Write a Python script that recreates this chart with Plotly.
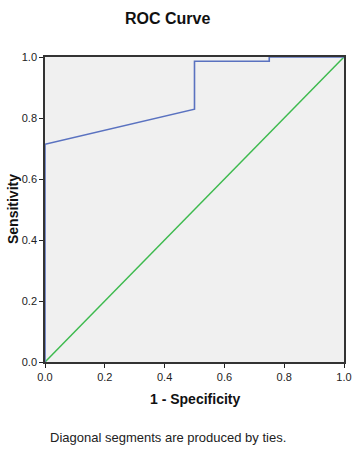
import plotly.graph_objects as go

# ROC curve data (1 - Specificity, Sensitivity)
fpr = [0.0, 0.0, 0.5, 0.5, 0.75, 0.75, 1.0]
tpr = [0.0, 0.714, 0.829, 0.986, 0.986, 1.0, 1.0]

# Reference line
ref_x = [0.0, 1.0]
ref_y = [0.0, 1.0]

tick_vals = [0.0, 0.2, 0.4, 0.6, 0.8, 1.0]

fig = go.Figure()
fig.add_trace(go.Scatter(x=ref_x, y=ref_y, mode="lines",
                         line=dict(color="#3dba4e", width=1.5), hoverinfo="skip"))
fig.add_trace(go.Scatter(x=fpr, y=tpr, mode="lines",
                         line=dict(color="#5a72c0", width=1.6), hoverinfo="skip"))

axis_common = dict(range=[0, 1], tickvals=tick_vals, tickformat=".1f",
                   showgrid=False, zeroline=False, showline=True, mirror=True,
                   linecolor="#333333", linewidth=1.5, ticks="outside",
                   ticklen=4, tickcolor="#222222", tickwidth=1,
                   tickfont=dict(family="Arial", size=11, color="#222222"))

fig.update_layout(
    width=364, height=450,
    margin=dict(l=45, r=15, t=57, b=88),
    paper_bgcolor="white", plot_bgcolor="#f0f0f0",
    showlegend=False,
    xaxis=dict(**axis_common),
    yaxis=dict(**axis_common),
    annotations=[
        dict(text="<b>ROC Curve</b>", xref="paper", yref="paper",
             x=(170 - 45) / 304, y=(362 - 18) / 305, xanchor="center", yanchor="middle",
             showarrow=False, font=dict(family="Arial", size=16, color="#111111")),
        dict(text="<b>1 - Specificity</b>", xref="paper", yref="paper",
             x=0.5, y=(362 - 399) / 305, xanchor="center", yanchor="middle",
             showarrow=False, font=dict(family="Arial", size=14, color="#111111")),
        dict(text="<b>Sensitivity</b>", xref="paper", yref="paper",
             x=(12 - 45) / 304, y=0.5, xanchor="center", yanchor="middle", textangle=-90,
             showarrow=False, font=dict(family="Arial", size=14, color="#111111")),
        dict(text="Diagonal segments are produced by ties.", xref="paper", yref="paper",
             x=(170 - 45) / 304, y=(362 - 437) / 305, xanchor="center", yanchor="middle",
             showarrow=False, font=dict(family="Arial", size=13, color="#222222")),
    ],
)

fig.write_html("out.html")
